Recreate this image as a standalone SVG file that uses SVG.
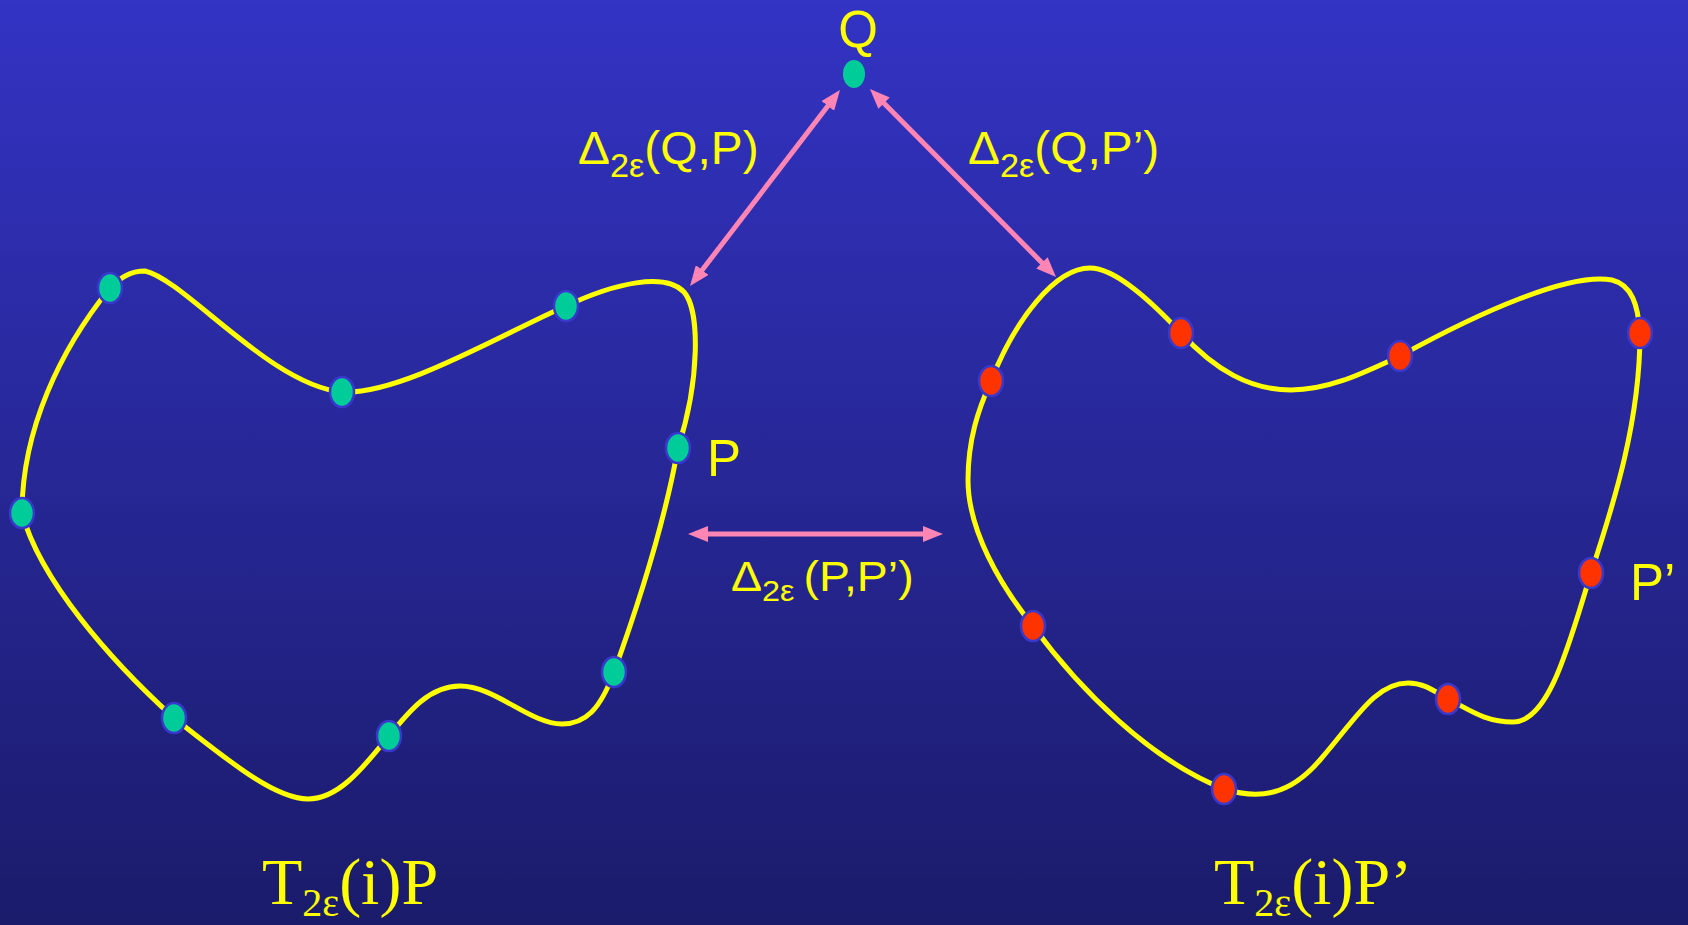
<svg xmlns="http://www.w3.org/2000/svg" width="1688" height="925" viewBox="0 0 1688 925">
  <defs>
    <linearGradient id="bg" x1="0" y1="0" x2="0" y2="1">
      <stop offset="0" stop-color="#3333c4"/>
      <stop offset="1" stop-color="#1b1b6b"/>
    </linearGradient>
    <marker id="ah" viewBox="0 0 20 16" markerWidth="20" markerHeight="16" refX="12" refY="8" orient="auto-start-reverse" markerUnits="userSpaceOnUse">
      <path d="M0,0 L20,8 L0,16 z" fill="#ff85b5"/>
    </marker>
    <style>
      .curve { fill: none; stroke: #ffff00; stroke-width: 5; stroke-linecap: round; }
      .teal { fill: #00cc99; stroke: #3838cc; stroke-width: 2.5; }
      .red { fill: #ff3300; stroke: #3838cc; stroke-width: 2.5; }
      .conn { stroke: #ff85b5; stroke-width: 5; fill: none; }
      .sans { font-family: "Liberation Sans", Arial, sans-serif; fill: #ffff00; }
      .serif { font-family: "Liberation Serif", "Times New Roman", serif; fill: #ffff00; }
    </style>
  </defs>
  <rect x="0" y="0" width="1688" height="925" fill="url(#bg)"/>

  <g id="connectors">
    <line class="conn" x1="835.1" y1="96.4" x2="694.9" y2="279.6" marker-start="url(#ah)" marker-end="url(#ah)"/>
    <line class="conn" x1="875.6" y1="94.7" x2="1050.4" y2="271.3" marker-start="url(#ah)" marker-end="url(#ah)"/>
    <line class="conn" x1="696" y1="534" x2="935" y2="534" marker-start="url(#ah)" marker-end="url(#ah)"/>
  </g>

  <g id="curve-P">
    <path class="curve" d="M22,513 C22,430 60,350 110,288 C120,278 130,271 145,271 C185,280 270,385 342,392 C400,395 500,335 566,306 C615,283 665,272 684,292 C700,310 700,380 678,448 C665,520 640,600 614,672 C600,710 585,724 562,724 C530,724 495,686 460,686 C430,686 410,710 389,736 C365,765 340,799 308,799 C275,799 230,762 174,718 C110,660 40,580 22,513 Z"/>
  </g>
  <g id="curve-P-prime">
    <path class="curve" d="M991,381 C1015,320 1055,268 1090,268 C1115,268 1150,300 1181,333 C1215,370 1250,390 1291,390 C1330,390 1365,372 1400,356 C1480,312 1570,272 1612,280 C1632,285 1638,305 1640,333 C1640,420 1615,500 1591,573 C1570,640 1550,722 1513,722 C1485,722 1470,710 1448,699 C1435,692 1425,683 1408,683 C1375,683 1355,720 1320,760 C1290,795 1260,800 1224,789 C1150,760 1080,690 1033,626 C1000,585 968,530 968,480 C968,440 978,410 991,381 Z"/>
  </g>

  <g id="node-Q">
    <ellipse cx="854" cy="74" rx="11" ry="14" fill="#00cc99"/>
    <text class="sans" x="858" y="47" font-size="51" text-anchor="middle">Q</text>
  </g>

  <g id="points-P">
    <ellipse class="teal" cx="22" cy="513" rx="12" ry="15"/>
    <ellipse class="teal" cx="110" cy="288" rx="12" ry="15"/>
    <ellipse class="teal" cx="342" cy="392" rx="12" ry="15"/>
    <ellipse class="teal" cx="566" cy="306" rx="12" ry="15"/>
    <ellipse class="teal" cx="678" cy="448" rx="12" ry="15"/>
    <ellipse class="teal" cx="614" cy="672" rx="12" ry="15"/>
    <ellipse class="teal" cx="389" cy="736" rx="12" ry="15"/>
    <ellipse class="teal" cx="174" cy="718" rx="12" ry="15"/>
  </g>
  <g id="points-P-prime">
    <ellipse class="red" cx="991" cy="381" rx="12" ry="15"/>
    <ellipse class="red" cx="1181" cy="333" rx="12" ry="15"/>
    <ellipse class="red" cx="1400" cy="356" rx="12" ry="15"/>
    <ellipse class="red" cx="1640" cy="333" rx="12" ry="15"/>
    <ellipse class="red" cx="1591" cy="573" rx="12" ry="15"/>
    <ellipse class="red" cx="1448" cy="699" rx="12" ry="15"/>
    <ellipse class="red" cx="1224" cy="789" rx="12" ry="15"/>
    <ellipse class="red" cx="1033" cy="626" rx="12" ry="15"/>
  </g>

  <g id="label-P">
    <text class="sans" x="707" y="476" font-size="51">P</text>
  </g>
  <g id="label-P-prime">
    <text class="sans" x="1630" y="600" font-size="51">P’</text>
  </g>

  <g id="label-QP">
    <text class="sans" transform="translate(578,164) scale(1.04,1)" font-size="46">Δ<tspan font-size="33" dy="13">2ε</tspan><tspan dy="-13">(Q,P)</tspan></text>
  </g>
  <g id="label-QPprime">
    <text class="sans" transform="translate(968,164) scale(1.04,1)" font-size="46">Δ<tspan font-size="33" dy="13">2ε</tspan><tspan dy="-13">(Q,P’)</tspan></text>
  </g>
  <g id="label-PPprime">
    <text class="sans" transform="translate(731,591) scale(1.08,1)" font-size="43">Δ<tspan font-size="30" dy="10">2ε </tspan><tspan dy="-10">(P,P’)</tspan></text>
  </g>

  <g id="title-P">
    <text class="serif" x="262" y="904" font-size="66">T<tspan font-size="40" dy="12">2ε</tspan><tspan dy="-12">(i)P</tspan></text>
  </g>
  <g id="title-P-prime">
    <text class="serif" x="1214" y="904" font-size="66">T<tspan font-size="40" dy="12">2ε</tspan><tspan dy="-12">(i)P’</tspan></text>
  </g>
</svg>
